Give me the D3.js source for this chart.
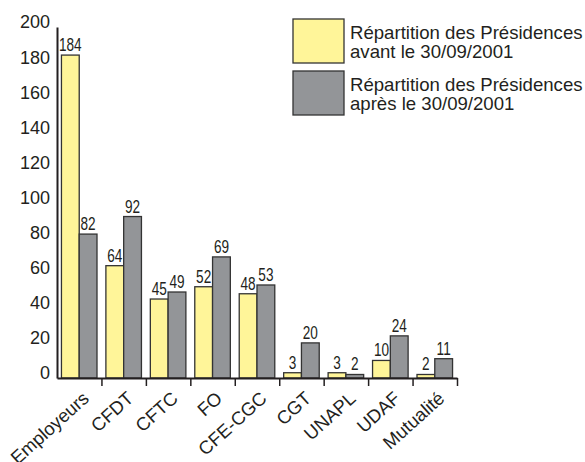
<!DOCTYPE html>
<meta charset="utf-8">
<script src="https://d3js.org/d3.v7.min.js"></script>
<style>
  body { margin: 0; background: #fff; }
  text { font-family: "Liberation Sans", Arial, sans-serif; fill: #231f20; }
</style>
<div id="my_dataviz"></div>
<script>
  // data
  var categories = ["Employeurs", "CFDT", "CFTC", "FO", "CFE-CGC", "CGT", "UNAPL", "UDAF", "Mutualité"];
  var avant = [184, 64, 45, 52, 48, 3, 3, 10, 2];
  var apres = [82, 92, 49, 69, 53, 20, 2, 24, 11];
  var seriesNames = ["Répartition des Présidences avant le 30/09/2001", "Répartition des Présidences après le 30/09/2001"];
  var yTicks = [0, 20, 40, 60, 80, 100, 120, 140, 160, 180, 200];

  var colors = ["#fff599", "#939598"];

  var width = 585, height = 462;
  var svg = d3.select("#my_dataviz").append("svg").attr("width", width).attr("height", height);

  var plotLeft = 57, plotRight = 457, plotBottom = 378, plotTop = 27;

  var x = d3.scaleBand().domain(categories).range([plotLeft, plotRight]).padding(0);
  var xSub = d3.scaleBand().domain([0, 1]).range([0, x.bandwidth()]).paddingInner(0).paddingOuter(0.25);
  var y = d3.scaleLinear().domain([0, 200]).range([plotBottom, plotTop]);

  // bars
  var rows = categories.map(function(c, i) { return { cat: c, vals: [avant[i], apres[i]] }; });
  var groups = svg.selectAll("g.grp").data(rows).enter().append("g").attr("class", "grp")
    .attr("transform", function(d) { return "translate(" + x(d.cat) + ",0)"; });

  groups.selectAll("rect").data(function(d) { return d.vals; }).enter().append("rect")
    .attr("x", function(d, i) { return xSub(i); })
    .attr("y", function(d) { return y(d); })
    .attr("width", xSub.bandwidth())
    .attr("height", function(d) { return plotBottom - y(d); })
    .attr("fill", function(d, i) { return colors[i]; })
    .attr("stroke", "#333")
    .attr("stroke-width", 1.3);

  // value labels, narrow look
  groups.selectAll("text.val").data(function(d) { return d.vals; }).enter().append("text")
    .attr("class", "val")
    .attr("text-anchor", "middle")
    .attr("transform", function(d, i) {
      return "translate(" + (xSub(i) + xSub.bandwidth() / 2) + "," + (y(d) - 4) + ") scale(0.8,1.05)";
    })
    .style("font-size", "17px")
    .text(function(d) { return d; });

  // Y axis
  var yAxis = svg.append("g").attr("transform", "translate(" + plotLeft + ",0)")
    .call(d3.axisLeft(y).tickValues(yTicks).tickSize(0).tickSizeOuter(0).tickPadding(7));
  yAxis.select(".domain").attr("stroke", "#231f20").attr("stroke-width", 2);
  yAxis.selectAll("text").style("font-size", "18px").style("font-family", "'Liberation Sans', Arial, sans-serif")
    .attr("fill", "#231f20").attr("dy", "0.05em");

  // X axis
  var xIdx = d3.scaleLinear().domain([0, categories.length]).range([plotLeft, plotRight]);
  var xAxis = svg.append("g").attr("transform", "translate(0," + plotBottom + ")")
    .call(d3.axisBottom(xIdx).tickValues(d3.range(1, categories.length + 1)).tickFormat("").tickSize(8).tickSizeOuter(0));
  xAxis.select(".domain").attr("stroke", "#231f20").attr("stroke-width", 2);
  xAxis.selectAll(".tick line").attr("stroke", "#231f20").attr("stroke-width", 1.5);

  svg.selectAll("text.cat").data(categories).enter().append("text")
    .attr("class", "cat")
    .attr("text-anchor", "end")
    .style("font-size", "18.5px")
    .attr("transform", function(d) {
      return "translate(" + (x(d) + x.bandwidth() / 2 + 11) + "," + (plotBottom + 22) + ") rotate(-42)";
    })
    .text(function(d) { return d; });

  // legend
  var legendTop = [19, 71];
  var legendLines = [["Répartition des Présidences", "avant le 30/09/2001"], ["Répartition des Présidences", "après le 30/09/2001"]];
  var leg = svg.selectAll("g.leg").data(seriesNames).enter().append("g").attr("class", "leg")
    .attr("transform", function(d, i) { return "translate(293," + legendTop[i] + ")"; });
  leg.append("rect").attr("width", 51).attr("height", 44)
    .attr("fill", function(d, i) { return colors[i]; })
    .attr("stroke", "#333").attr("stroke-width", 1.3);
  leg.each(function(d, i) {
    var t = d3.select(this).append("text").attr("x", 57).attr("y", 20).style("font-size", "18.6px");
    legendLines[i].forEach(function(line, j) {
      t.append("tspan").attr("x", 57).attr("dy", j === 0 ? 0 : 19).text(line);
    });
  });
</script>
